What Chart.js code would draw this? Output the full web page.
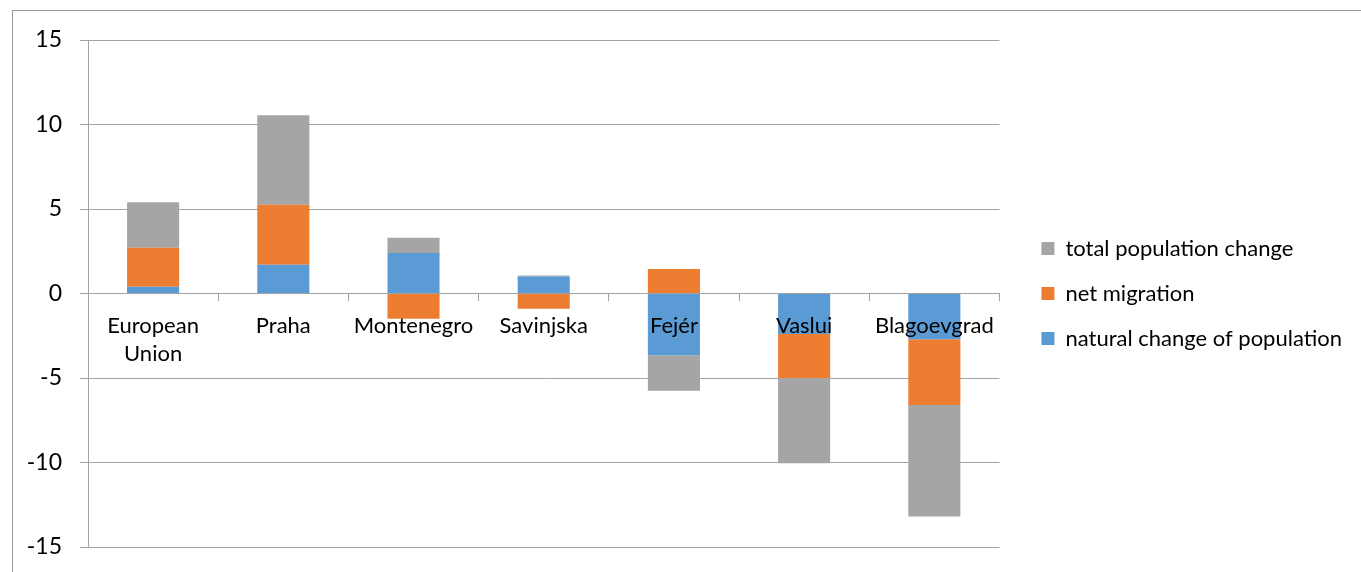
<!DOCTYPE html>
<html>
<head>
<meta charset="utf-8">
<script src="https://cdn.jsdelivr.net/npm/chart.js@4.4.0/dist/chart.umd.min.js"></script>
<style>
  html, body { margin: 0; padding: 0; background: #fff; }
  #wrap { position: relative; width: 1361px; height: 572px; overflow: hidden; }
  #frame { position: absolute; left: 12px; top: 10px; width: 1400px; height: 600px;
           border-left: 1px solid #9a9a9a; border-top: 1px solid #9a9a9a; }
  canvas { position: absolute; left: 0; top: 0; }
</style>
</head>
<body>
<div id="wrap">
  <div id="frame"></div>
  <canvas id="myChart" width="1361" height="572"></canvas>
</div>
<script>
const regions = [['European', 'Union'], 'Praha', 'Montenegro', 'Savinjska', 'Fejér', 'Vaslui', 'Blagoevgrad'];
const naturalChange = [0.4, 1.7, 2.4, 1.0, -3.65, -2.4, -2.7];
const netMigration = [2.3, 3.55, -1.5, -0.9, 1.45, -2.6, -3.9];
const totalChange = [2.7, 5.3, 0.9, 0.07, -2.1, -5.05, -6.6];
const yTicks = [-15, -10, -5, 0, 5, 10, 15];

const gridGray = '#a3a3a3';
const font = 'Lato';

const ctx = document.getElementById('myChart').getContext('2d');

new Chart(ctx, {
  type: 'bar',
  data: {
    labels: regions,
    datasets: [
      { label: 'natural change of population', data: naturalChange, backgroundColor: '#5b9bd5' },
      { label: 'net migration', data: netMigration, backgroundColor: '#ed7d31' },
      { label: 'total population change', data: totalChange, backgroundColor: '#a5a5a5' }
    ]
  },
  options: {
    responsive: false,
    animation: false,
    events: [],
    datasets: { bar: { categoryPercentage: 1, barPercentage: 0.4, borderWidth: 0 } },
    layout: { padding: { left: 0, top: 40, bottom: 25, right: 9 } },
    plugins: {
      tooltip: { enabled: false },
      legend: {
        position: 'right',
        reverse: true,
        labels: {
          color: '#000',
          font: { family: font, size: 22 },
          boxWidth: 13,
          boxHeight: 13,
          padding: 23
        }
      }
    },
    scales: {
      x: {
        stacked: true,
        position: { y: 0 },
        afterFit: s => { s.paddingTop = 0; s.paddingBottom = 0; },
        border: { display: true, color: gridGray },
        grid: { display: true, drawOnChartArea: false, drawTicks: true, tickLength: 7, color: gridGray },
        ticks: { z: 1, color: '#000', font: { family: font, size: 22, lineHeight: 1.27 }, padding: 11, maxRotation: 0, autoSkip: false }
      },
      y: {
        stacked: true,
        min: yTicks[0],
        max: yTicks[yTicks.length - 1],
        afterBuildTicks: s => { s.ticks = yTicks.map(v => ({ value: v })); },
        afterFit: s => { s.width = 88; s.paddingTop = 0; s.paddingBottom = 0; },
        border: { display: true, color: gridGray },
        grid: { color: gridGray, tickLength: 8 },
        ticks: { color: '#000', font: { family: font, size: 23 }, padding: 18 }
      },
      // hidden spacer between the plot and the legend
      gap: {
        axis: 'y',
        position: 'right',
        display: false,
        afterFit: s => { s.width = 19; }
      }
    }
  }
});
</script>
</body>
</html>
